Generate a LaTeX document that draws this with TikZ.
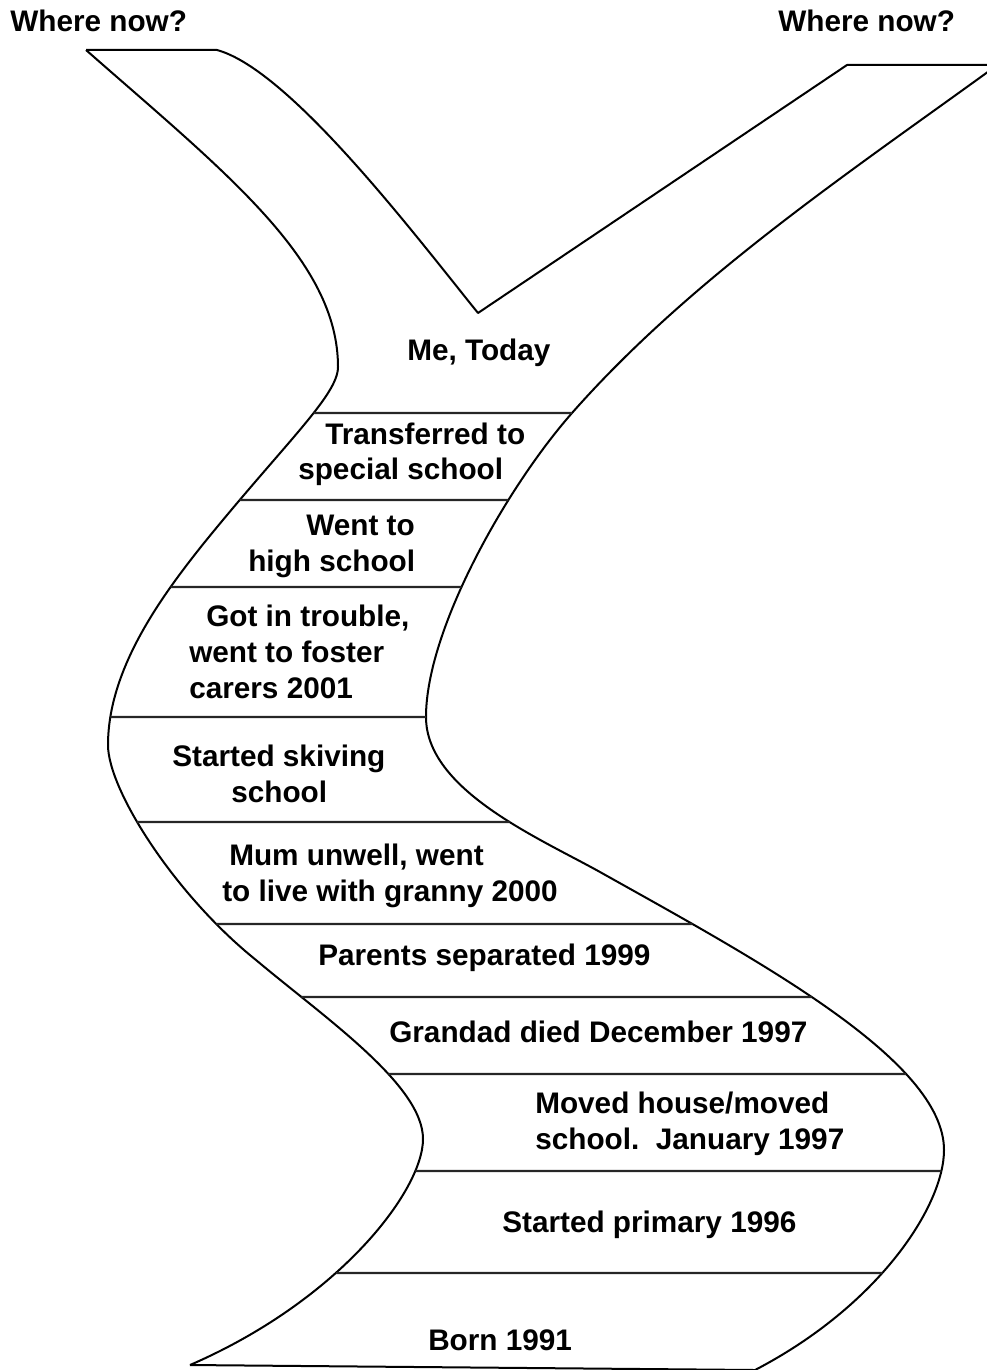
\documentclass[tikz,border=0pt]{standalone}
\usepackage{fontspec}
\setmainfont{Liberation Sans}
\usetikzlibrary{intersections}
\begin{document}
\begin{tikzpicture}[x=0.75pt,y=-0.75pt,
  edge/.style={line width=1.5pt, line join=round},
  sep/.style={line width=1.7pt, black!85},
  lbl/.style={anchor=base west, inner sep=0pt, font=\fontsize{22.3}{27}\selectfont\bfseries}]
\useasboundingbox (0,0) rectangle (986,1370);
% outline: left branch and V
\draw[edge] (86,50) -- (217,50)
  .. controls (290,70) and (415,235) .. (478,313)
  -- (847,65) -- (996,65);
% outer right edge
\draw[edge, name path=R] (996,66)
  .. controls (850,172) and (691,278) .. (572,413)
  .. controls (506,488) and (426,630) .. (426,717)
  .. controls (426,790) and (539,838) .. (600,872)
  .. controls (757,960) and (944,1060) .. (944,1150)
  .. controls (944,1205) and (880,1305) .. (755,1370);
% outer left edge
\draw[edge, name path=L] (86,50)
  .. controls (226,173) and (338,260) .. (338,367)
  .. controls (338,395) and (286,442) .. (204,543)
  .. controls (160,598) and (108,670) .. (108,745)
  .. controls (108,790) and (175,895) .. (256,960)
  .. controls (325,1018) and (423,1085) .. (423,1139)
  .. controls (423,1190) and (340,1300) .. (190,1365);
\draw[edge] (190,1365) -- (755,1370);
% separators, ending on the outline
\foreach \yy [count=\i] in {413,500,587,717,822,924,997,1074,1171,1273} {
  \path[name path=hz\i] (0,\yy) -- (1000,\yy);
  \path[name intersections={of=L and hz\i, by={la\i}}];
  \path[name intersections={of=R and hz\i, by={rb\i}}];
  \draw[sep] (la\i) -- (rb\i);
}
% labels
\node[lbl] (wl) at (10,32) {Where now?};
\node[lbl] (wr) at (778,32) {Where now?};
\node[lbl] (today) at (407,360) {Me, Today};
\node[lbl] (t1) at (325,444) {Transferred to};
\node[lbl] (t2) at (298,479) {special school};
\node[lbl] (h1) at (306,535) {Went to};
\node[lbl] (h2) at (248,571) {high school};
\node[lbl] (g1) at (206,626) {Got in trouble,};
\node[lbl] (g2) at (189,662) {went to foster};
\node[lbl] (g3) at (189,698) {carers 2001};
\node[lbl] (s1) at (172,766) {Started skiving};
\node[lbl] (s2) at (231,802) {school};
\node[lbl] (m1) at (229,865) {Mum unwell, went};
\node[lbl] (m2) at (222,901) {to live with granny 2000};
\node[lbl] (p1) at (318,965) {Parents separated 1999};
\node[lbl] (d1) at (389,1042) {Grandad died December 1997};
\node[lbl] (mv1) at (535,1113) {Moved house/moved};
\node[lbl] (mv2) at (535,1149) {school.\ \ January 1997};
\node[lbl] (pr) at (502,1232) {Started primary 1996};
\node[lbl] (b) at (428,1350) {Born 1991};
\end{tikzpicture}
\end{document}
